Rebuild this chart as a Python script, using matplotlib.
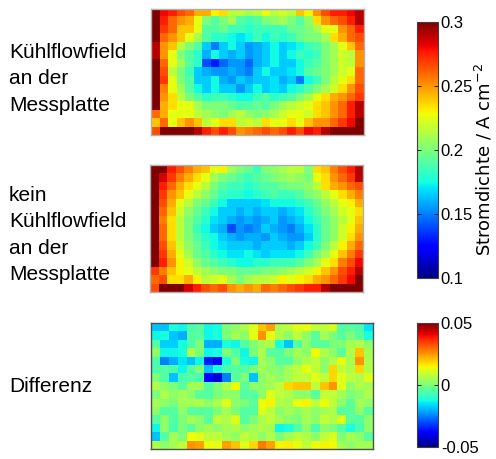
import numpy as np
import matplotlib
matplotlib.use("Agg")
import matplotlib.pyplot as plt

plt.rcParams['font.family'] = ['Liberation Sans', 'DejaVu Sans']

# Current density maps (A cm^-2), rows top -> bottom, 25 columns each
mit_kuehlflowfield = [
    [0.30, 0.28, 0.275, 0.265, 0.26, 0.245, 0.245, 0.23, 0.235, 0.215, 0.215, 0.21, 0.215, 0.225, 0.215, 0.22, 0.215, 0.24, 0.23, 0.25, 0.265, 0.275, 0.275, 0.28, 0.29],
    [0.30, 0.275, 0.26, 0.25, 0.245, 0.225, 0.20, 0.19, 0.20, 0.21, 0.19, 0.185, 0.19, 0.20, 0.205, 0.21, 0.20, 0.19, 0.205, 0.235, 0.25, 0.26, 0.265, 0.275, 0.29],
    [0.30, 0.27, 0.26, 0.24, 0.24, 0.225, 0.19, 0.19, 0.195, 0.185, 0.185, 0.18, 0.185, 0.185, 0.185, 0.185, 0.195, 0.195, 0.20, 0.21, 0.225, 0.225, 0.25, 0.26, 0.275],
    [0.30, 0.26, 0.25, 0.24, 0.225, 0.21, 0.19, 0.18, 0.18, 0.175, 0.17, 0.175, 0.185, 0.175, 0.185, 0.18, 0.185, 0.195, 0.20, 0.20, 0.21, 0.235, 0.245, 0.26, 0.265],
    [0.29, 0.25, 0.24, 0.215, 0.20, 0.19, 0.165, 0.15, 0.165, 0.175, 0.165, 0.155, 0.16, 0.165, 0.175, 0.165, 0.17, 0.175, 0.185, 0.19, 0.20, 0.21, 0.225, 0.24, 0.26],
    [0.29, 0.25, 0.225, 0.20, 0.19, 0.18, 0.16, 0.175, 0.165, 0.16, 0.165, 0.155, 0.16, 0.165, 0.175, 0.165, 0.175, 0.185, 0.18, 0.185, 0.20, 0.21, 0.22, 0.215, 0.25],
    [0.30, 0.26, 0.225, 0.21, 0.19, 0.18, 0.14, 0.13, 0.145, 0.155, 0.155, 0.145, 0.16, 0.165, 0.175, 0.165, 0.165, 0.175, 0.185, 0.19, 0.20, 0.21, 0.22, 0.215, 0.25],
    [0.30, 0.265, 0.215, 0.20, 0.185, 0.165, 0.16, 0.155, 0.155, 0.16, 0.155, 0.15, 0.165, 0.175, 0.165, 0.165, 0.17, 0.175, 0.19, 0.195, 0.20, 0.21, 0.22, 0.225, 0.26],
    [0.30, 0.27, 0.225, 0.20, 0.19, 0.165, 0.165, 0.175, 0.16, 0.155, 0.165, 0.16, 0.165, 0.165, 0.17, 0.16, 0.165, 0.15, 0.175, 0.185, 0.20, 0.215, 0.225, 0.235, 0.26],
    [0.30, 0.255, 0.225, 0.21, 0.19, 0.175, 0.165, 0.175, 0.165, 0.165, 0.155, 0.165, 0.175, 0.165, 0.17, 0.165, 0.175, 0.18, 0.19, 0.20, 0.21, 0.22, 0.235, 0.25, 0.265],
    [0.30, 0.25, 0.235, 0.215, 0.20, 0.19, 0.18, 0.185, 0.185, 0.18, 0.175, 0.175, 0.185, 0.19, 0.18, 0.185, 0.19, 0.20, 0.21, 0.225, 0.235, 0.245, 0.25, 0.26, 0.27],
    [0.30, 0.245, 0.235, 0.225, 0.225, 0.21, 0.20, 0.20, 0.20, 0.195, 0.19, 0.19, 0.195, 0.19, 0.20, 0.21, 0.215, 0.22, 0.225, 0.235, 0.24, 0.25, 0.26, 0.275, 0.29],
    [0.26, 0.245, 0.225, 0.225, 0.225, 0.215, 0.21, 0.205, 0.20, 0.21, 0.215, 0.205, 0.20, 0.205, 0.21, 0.22, 0.225, 0.225, 0.22, 0.235, 0.24, 0.25, 0.26, 0.275, 0.29],
    [0.24, 0.26, 0.225, 0.24, 0.25, 0.24, 0.215, 0.225, 0.235, 0.235, 0.215, 0.22, 0.215, 0.235, 0.225, 0.225, 0.235, 0.225, 0.24, 0.25, 0.25, 0.26, 0.27, 0.28, 0.30],
    [0.265, 0.30, 0.30, 0.30, 0.30, 0.29, 0.275, 0.265, 0.275, 0.265, 0.25, 0.255, 0.26, 0.265, 0.26, 0.265, 0.275, 0.265, 0.28, 0.275, 0.29, 0.30, 0.30, 0.30, 0.30],
]

ohne_kuehlflowfield = [
    [0.30, 0.30, 0.275, 0.265, 0.255, 0.245, 0.24, 0.225, 0.23, 0.21, 0.20, 0.195, 0.185, 0.20, 0.205, 0.21, 0.215, 0.215, 0.20, 0.235, 0.24, 0.255, 0.265, 0.275, 0.29],
    [0.30, 0.285, 0.27, 0.255, 0.245, 0.235, 0.225, 0.21, 0.20, 0.195, 0.19, 0.185, 0.19, 0.195, 0.20, 0.205, 0.21, 0.205, 0.20, 0.225, 0.235, 0.25, 0.26, 0.27, 0.29],
    [0.30, 0.275, 0.26, 0.245, 0.235, 0.225, 0.215, 0.20, 0.19, 0.185, 0.185, 0.18, 0.185, 0.19, 0.19, 0.195, 0.20, 0.20, 0.205, 0.215, 0.235, 0.245, 0.25, 0.26, 0.265],
    [0.30, 0.27, 0.25, 0.24, 0.225, 0.215, 0.205, 0.195, 0.185, 0.18, 0.18, 0.175, 0.18, 0.185, 0.19, 0.185, 0.185, 0.19, 0.20, 0.205, 0.215, 0.225, 0.235, 0.245, 0.255],
    [0.30, 0.265, 0.245, 0.225, 0.215, 0.20, 0.195, 0.185, 0.175, 0.165, 0.165, 0.165, 0.165, 0.17, 0.175, 0.175, 0.175, 0.18, 0.185, 0.195, 0.205, 0.215, 0.225, 0.23, 0.245],
    [0.30, 0.26, 0.24, 0.22, 0.205, 0.195, 0.185, 0.175, 0.165, 0.165, 0.16, 0.165, 0.16, 0.165, 0.165, 0.16, 0.165, 0.17, 0.18, 0.19, 0.20, 0.21, 0.22, 0.225, 0.235],
    [0.30, 0.255, 0.235, 0.215, 0.20, 0.19, 0.18, 0.17, 0.165, 0.16, 0.155, 0.16, 0.155, 0.16, 0.165, 0.155, 0.16, 0.165, 0.175, 0.185, 0.195, 0.205, 0.215, 0.225, 0.24],
    [0.30, 0.26, 0.235, 0.215, 0.20, 0.185, 0.175, 0.165, 0.16, 0.14, 0.155, 0.15, 0.155, 0.165, 0.16, 0.155, 0.15, 0.16, 0.17, 0.18, 0.195, 0.205, 0.22, 0.23, 0.245],
    [0.30, 0.26, 0.235, 0.215, 0.20, 0.19, 0.18, 0.175, 0.165, 0.16, 0.155, 0.16, 0.16, 0.155, 0.165, 0.16, 0.155, 0.155, 0.165, 0.18, 0.195, 0.205, 0.22, 0.235, 0.25],
    [0.30, 0.265, 0.24, 0.22, 0.205, 0.195, 0.185, 0.175, 0.17, 0.165, 0.165, 0.165, 0.16, 0.165, 0.165, 0.165, 0.16, 0.165, 0.175, 0.185, 0.20, 0.215, 0.23, 0.245, 0.26],
    [0.30, 0.27, 0.245, 0.225, 0.21, 0.195, 0.19, 0.18, 0.175, 0.17, 0.17, 0.175, 0.17, 0.165, 0.17, 0.17, 0.17, 0.175, 0.185, 0.20, 0.21, 0.225, 0.24, 0.255, 0.27],
    [0.30, 0.275, 0.25, 0.23, 0.22, 0.205, 0.195, 0.19, 0.185, 0.18, 0.175, 0.175, 0.18, 0.18, 0.185, 0.185, 0.185, 0.19, 0.20, 0.21, 0.225, 0.235, 0.255, 0.265, 0.28],
    [0.27, 0.255, 0.24, 0.23, 0.225, 0.215, 0.21, 0.205, 0.20, 0.20, 0.195, 0.195, 0.195, 0.20, 0.20, 0.205, 0.21, 0.215, 0.22, 0.23, 0.24, 0.25, 0.265, 0.275, 0.29],
    [0.26, 0.265, 0.235, 0.235, 0.245, 0.23, 0.215, 0.22, 0.225, 0.21, 0.20, 0.21, 0.215, 0.215, 0.22, 0.23, 0.225, 0.23, 0.235, 0.245, 0.25, 0.26, 0.27, 0.28, 0.30],
    [0.265, 0.30, 0.30, 0.30, 0.285, 0.275, 0.265, 0.26, 0.265, 0.25, 0.245, 0.25, 0.245, 0.26, 0.255, 0.26, 0.265, 0.27, 0.275, 0.275, 0.29, 0.30, 0.30, 0.30, 0.30],
]

differenz = [
    [-0.018, -0.018, -0.012, -0.013, -0.006, -0.005, -0.013, -0.012, 0.0, 0.002, 0.006, 0.012, 0.02, 0.024, 0.006, 0.008, 0.012, 0.014, 0.008, 0.008, 0.012, -0.005, -0.004, -0.006, -0.015],
    [-0.013, -0.012, -0.018, -0.02, -0.005, -0.004, -0.013, -0.012, 0.0, 0.005, 0.002, 0.013, 0.025, 0.013, 0.006, 0.002, 0.008, 0.002, -0.004, 0.005, 0.0, -0.004, 0.0, -0.004, -0.012],
    [-0.005, -0.017, -0.017, -0.012, -0.006, 0.0, -0.02, -0.02, -0.012, -0.013, -0.005, 0.0, 0.005, 0.006, -0.012, -0.018, -0.005, 0.002, -0.004, -0.004, 0.0, 0.0, 0.005, 0.006, 0.002],
    [0.002, -0.013, -0.013, -0.012, 0.006, 0.0, -0.013, -0.012, 0.0, -0.005, -0.013, 0.0, 0.006, -0.004, -0.005, 0.0, 0.005, 0.002, 0.014, 0.006, 0.002, -0.004, 0.006, 0.02, 0.005],
    [-0.006, -0.025, -0.02, -0.015, -0.018, -0.013, -0.035, -0.038, -0.012, 0.0, -0.012, -0.013, 0.005, 0.002, -0.004, -0.005, 0.002, 0.006, 0.008, 0.002, 0.006, 0.013, 0.005, 0.025, 0.006],
    [-0.006, -0.005, -0.006, -0.013, -0.005, 0.0, -0.018, -0.012, -0.006, -0.005, -0.005, 0.0, 0.005, 0.002, 0.0, 0.005, 0.008, 0.013, 0.008, 0.002, 0.018, 0.008, 0.006, 0.018, 0.006],
    [0.0, -0.005, -0.018, -0.006, -0.005, -0.006, -0.037, -0.042, -0.025, -0.004, 0.0, -0.018, 0.002, 0.005, 0.002, 0.005, 0.008, 0.008, 0.012, 0.008, 0.018, 0.012, 0.008, 0.006, 0.012],
    [0.006, 0.002, 0.0, -0.004, 0.005, 0.005, -0.005, 0.0, 0.006, 0.014, -0.004, 0.002, 0.002, 0.005, 0.008, 0.018, 0.02, 0.02, 0.008, 0.02, 0.025, 0.012, 0.002, 0.006, 0.005],
    [0.0, 0.006, 0.002, 0.005, 0.002, -0.004, -0.005, 0.0, 0.002, 0.002, -0.005, -0.004, 0.002, 0.012, 0.008, 0.006, 0.002, 0.002, -0.004, 0.008, 0.008, 0.005, 0.0, 0.002, 0.006],
    [0.005, 0.002, 0.0, 0.005, 0.005, 0.006, 0.002, 0.006, 0.012, 0.002, 0.0, -0.004, 0.014, 0.015, 0.006, 0.005, 0.014, 0.015, 0.008, 0.014, 0.008, 0.002, -0.004, 0.005, 0.002],
    [0.002, -0.005, -0.005, 0.002, -0.004, -0.005, -0.004, 0.0, 0.005, 0.0, -0.005, -0.005, 0.012, 0.008, 0.002, 0.005, 0.002, 0.005, 0.002, 0.005, 0.006, -0.005, -0.004, 0.002, -0.004],
    [-0.005, 0.002, -0.005, 0.0, 0.005, 0.002, -0.004, 0.008, 0.006, 0.012, -0.005, 0.0, 0.006, 0.008, 0.005, 0.002, 0.0, 0.005, 0.002, 0.008, 0.006, 0.012, -0.004, -0.005, 0.002],
    [-0.013, 0.002, -0.006, 0.0, -0.004, 0.002, 0.005, 0.002, 0.005, 0.006, 0.002, 0.005, 0.006, 0.005, -0.013, -0.012, -0.005, 0.002, -0.006, 0.002, 0.0, -0.005, -0.012, -0.006, 0.002],
    [-0.018, -0.005, 0.005, 0.0, 0.014, 0.012, 0.008, 0.008, 0.005, 0.002, 0.008, 0.006, 0.002, 0.006, 0.0, 0.005, 0.008, 0.006, 0.002, 0.008, 0.012, 0.0, 0.005, 0.002, -0.004],
    [0.006, 0.002, 0.005, 0.008, 0.025, 0.024, 0.014, 0.013, 0.024, 0.02, 0.012, 0.018, 0.028, 0.024, 0.015, 0.016, 0.013, 0.008, 0.014, 0.015, 0.014, 0.005, 0.002, 0.005, 0.005],
]

labels = ["Kühlflowfield\nan der\nMessplatte",
          "kein\nKühlflowfield\nan der\nMessplatte",
          "Differenz"]
label_y = [79, 235, 386]
cbar_label = "Stromdichte / A cm$^{-2}$"
ticks_main = [0.1, 0.15, 0.2, 0.25, 0.3]
ticks_diff = [-0.05, 0, 0.05]

W, H = 496, 459
fig = plt.figure(figsize=(W / 100, H / 100), dpi=100)


def px_axes(x0, y0, x1, y1):
    return fig.add_axes([x0 / W, 1 - y1 / H, (x1 - x0) / W, (y1 - y0) / H])


def draw_map(ax, data, vmin, vmax, edge):
    im = ax.imshow(np.array(data), cmap='jet', vmin=vmin, vmax=vmax,
                   aspect='auto', interpolation='nearest')
    ax.set_xticks([])
    ax.set_yticks([])
    for s in ax.spines.values():
        s.set_color(edge)
        s.set_linewidth(1.0)
    return im


ax1 = px_axes(151, 9, 364, 135)
im1 = draw_map(ax1, mit_kuehlflowfield, 0.1, 0.3, '#b0b0b0')
ax2 = px_axes(150, 165, 363, 292)
draw_map(ax2, ohne_kuehlflowfield, 0.1, 0.3, '#b0b0b0')
ax3 = px_axes(151, 323, 373, 449)
im3 = draw_map(ax3, differenz, -0.05, 0.05, '#505050')

for txt, y in zip(labels, label_y):
    fig.text(9 / W, 1 - y / H, txt, ha='left', va='center',
             fontsize=15, linespacing=1.5)

fs = 12


def style_cbar(cb):
    cb.outline.set_edgecolor('#404040')
    cb.outline.set_linewidth(0.8)
    cb.ax.tick_params(direction='in', length=3, width=0.6, left=True, right=True,
                      labelleft=False, labelright=True, labelsize=fs, pad=2)


cax1 = px_axes(417, 22, 438, 278)
cb1 = fig.colorbar(im1, cax=cax1, ticks=ticks_main)
cb1.ax.set_yticklabels(['0.1', '0.15', '0.2', '0.25', '0.3'])
style_cbar(cb1)
fig.text(490 / W, 1 - 160 / H, cbar_label, rotation=90, rotation_mode='anchor',
         ha='center', va='baseline', fontsize=13, family='DejaVu Sans')

cax2 = px_axes(417, 323, 438, 447)
cb2 = fig.colorbar(im3, cax=cax2, ticks=ticks_diff)
cb2.ax.set_yticklabels(['-0.05', '0', '0.05'])
style_cbar(cb2)

fig.savefig('out.png', dpi=100)
